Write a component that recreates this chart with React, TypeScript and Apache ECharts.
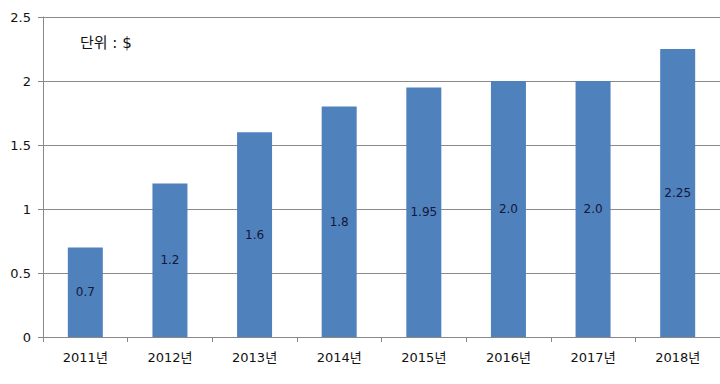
import React, { useEffect, useRef } from "react";
import * as echarts from "echarts";

const categories = ["2011년", "2012년", "2013년", "2014년", "2015년", "2016년", "2017년", "2018년"];
const values = [0.7, 1.2, 1.6, 1.8, 1.95, 2.0, 2.0, 2.25];
const valueLabels = ["0.7", "1.2", "1.6", "1.8", "1.95", "2.0", "2.0", "2.25"];
const unitText = "단위 : $";

const FONT = "'DejaVu Sans', 'Noto Sans CJK KR', sans-serif";

export default function App() {
  const ref = useRef<HTMLDivElement>(null);
  useEffect(() => {
    if (!ref.current) return;
    const chart = echarts.init(ref.current, undefined, { renderer: "svg" });
    chart.setOption({
      animation: false,
      backgroundColor: "#ffffff",
      textStyle: { fontFamily: FONT },
      grid: { left: 43, top: 17, width: 680, bottom: 47, containLabel: false },
      graphic: [
        {
          type: "text",
          left: 80,
          top: 35,
          style: { text: unitText, fontSize: 15, fill: "#111", fontFamily: FONT },
        },
      ],
      xAxis: {
        type: "category",
        data: categories,
        axisLine: { lineStyle: { color: "#888", width: 1 } },
        axisTick: { show: true, length: 5, lineStyle: { color: "#888" } },
        axisLabel: { color: "#111", fontSize: 13, margin: 14, fontFamily: FONT },
      },
      yAxis: {
        type: "value",
        min: 0,
        max: 2.5,
        interval: 0.5,
        axisLine: { show: true, lineStyle: { color: "#888", width: 1 } },
        axisTick: { show: true, length: 5, lineStyle: { color: "#888" } },
        splitLine: { lineStyle: { color: "#8a8a8a", width: 1 } },
        axisLabel: {
          color: "#111",
          fontSize: 13,
          margin: 12,
          fontFamily: FONT,
          formatter: (v: number) => String(v),
        },
      },
      series: [
        {
          type: "bar",
          data: values,
          barWidth: 35,
          itemStyle: { color: "#4f81bd" },
          label: {
            show: true,
            position: "inside",
            color: "#15173a",
            fontSize: 12,
            fontFamily: FONT,
            formatter: (p: any) => valueLabels[p.dataIndex],
          },
        },
      ],
    });
    return () => chart.dispose();
  }, []);
  return <div ref={ref} style={{ width: 720, height: 384, position: "absolute", left: 0, top: 0 }} />;
}
